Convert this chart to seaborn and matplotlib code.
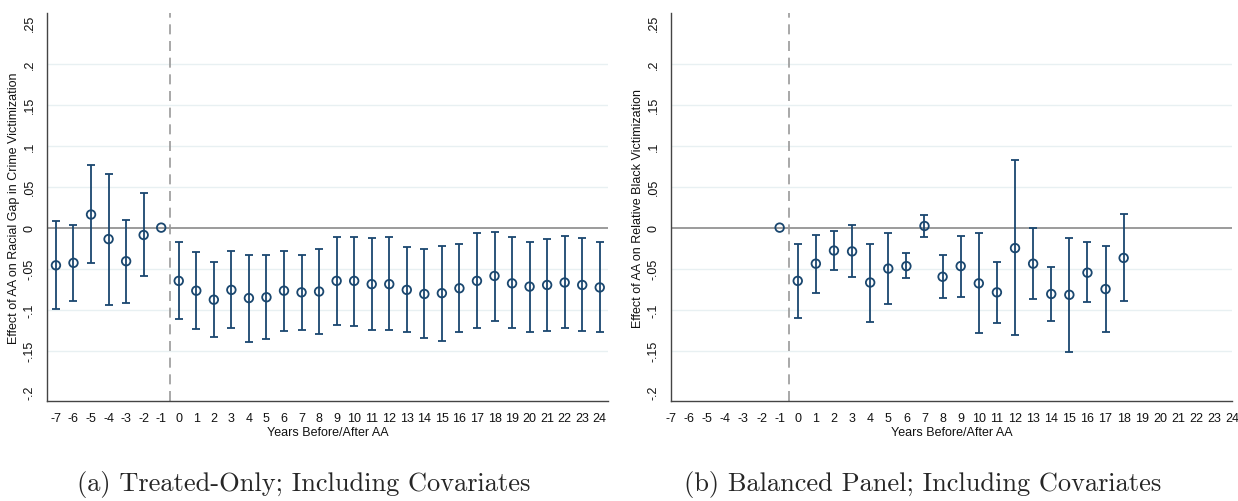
import numpy as np
import pandas as pd
import matplotlib
matplotlib.use("Agg")
import matplotlib.pyplot as plt
import seaborn as sns

# Event-study estimates: panel (a), treated-only sample with covariates
years_a = list(range(-7, 25))
est_a = [-0.046, -0.043, 0.016, -0.014, -0.041, -0.009, 0.0,
         -0.065, -0.077, -0.088, -0.076, -0.086, -0.085, -0.077, -0.079, -0.078,
         -0.065, -0.065, -0.069, -0.069, -0.076, -0.081, -0.080, -0.074, -0.065,
         -0.059, -0.068, -0.072, -0.070, -0.067, -0.070, -0.073]
lo_a = [-0.099, -0.089, -0.043, -0.094, -0.092, -0.059, np.nan,
        -0.111, -0.124, -0.133, -0.122, -0.140, -0.136, -0.126, -0.125, -0.130,
        -0.119, -0.120, -0.125, -0.125, -0.128, -0.135, -0.138, -0.127, -0.123,
        -0.114, -0.123, -0.127, -0.126, -0.123, -0.126, -0.128]
hi_a = [0.008, 0.003, 0.076, 0.066, 0.009, 0.042, np.nan,
        -0.018, -0.030, -0.042, -0.029, -0.033, -0.034, -0.029, -0.033, -0.026,
        -0.012, -0.011, -0.013, -0.012, -0.024, -0.026, -0.023, -0.020, -0.007,
        -0.005, -0.011, -0.018, -0.014, -0.010, -0.013, -0.018]

# Panel (b), balanced panel with covariates
years_b = list(range(-1, 19))
est_b = [0.0, -0.065, -0.044, -0.028, -0.029, -0.067, -0.050, -0.047, 0.002,
         -0.060, -0.047, -0.068, -0.079, -0.025, -0.044, -0.081, -0.082, -0.055,
         -0.075, -0.037]
lo_b = [np.nan, -0.110, -0.080, -0.052, -0.060, -0.115, -0.093, -0.062, -0.011,
        -0.086, -0.085, -0.129, -0.116, -0.131, -0.087, -0.114, -0.152, -0.091,
        -0.127, -0.090]
hi_b = [np.nan, -0.020, -0.009, -0.004, 0.003, -0.020, -0.007, -0.031, 0.015,
        -0.034, -0.010, -0.007, -0.042, 0.082, 0.000, -0.048, -0.013, -0.018,
        -0.022, 0.017]

y_ticks = [-0.2, -0.15, -0.1, -0.05, 0.0, 0.05, 0.1, 0.15, 0.2, 0.25]
y_tick_labels = ["-.2", "-.15", "-.1", "-.05", "0", ".05", ".1", ".15", ".2", ".25"]
x_ticks = list(range(-7, 25))

ylabels = ["Effect of AA on Racial Gap in Crime Victimization",
           "Effect of AA on Relative Black Victimization"]
xlabel = "Years Before/After AA"
captions = ["(a) Treated-Only; Including Covariates",
            "(b) Balanced Panel; Including Covariates"]

sns.set_theme(style="white")
plt.rcParams["font.family"] = ["Liberation Sans Narrow", "Liberation Sans", "DejaVu Sans"]

NAVY = "#1a476f"
GRID = "#e8f0f2"
ZERO = "#8a8a8a"
FS = 9

fig = plt.figure(figsize=(12.38, 5.02), dpi=100)
ax_a = fig.add_axes([47 / 1238, 1 - 402.3 / 502, 561 / 1238, 388.3 / 502])
ax_b = fig.add_axes([671 / 1238, 1 - 402.3 / 502, 561.3 / 1238, 388.3 / 502])

panels = [
    (ax_a, years_a, est_a, lo_a, hi_a, (-7.51, 24.47)),
    (ax_b, years_b, est_b, lo_b, hi_b, (-7.0, 24.0)),
]

for i, (ax, yrs, est, lo, hi, xlim) in enumerate(panels):
    df = pd.DataFrame({"year": yrs, "est": est, "lo": lo, "hi": hi})
    # light horizontal grid, zero line and treatment-onset marker
    for t in y_ticks:
        if t not in (0.0, 0.25, -0.2):
            ax.axhline(t, color=GRID, lw=1.0, zorder=0)
    ax.axhline(0, color=ZERO, lw=1.2, zorder=1)
    ax.axvline(-0.5, color="#999999", lw=1.2, ls=(0, (6, 4)), zorder=1)

    ci = df.dropna()
    ax.errorbar(ci["year"], (ci["lo"] + ci["hi"]) / 2,
                yerr=(ci["hi"] - ci["lo"]) / 2, fmt="none",
                ecolor=NAVY, elinewidth=1.3, capsize=3.2, capthick=1.3, zorder=2)
    sns.scatterplot(data=df, x="year", y="est", ax=ax, marker="o", s=38,
                    facecolors="none", edgecolor=NAVY, linewidth=1.3, zorder=3)

    ax.set_xlim(*xlim)
    ax.set_ylim(-0.212, 0.262)
    ax.set_xticks(x_ticks)
    ax.set_xticklabels([str(x) for x in x_ticks], fontsize=FS)
    ax.set_yticks(y_ticks)
    ax.set_yticklabels(y_tick_labels, fontsize=FS, rotation=90, va="center")
    ax.tick_params(axis="both", direction="out", length=5, width=0.9,
                   color="#333333", pad=3, labelcolor="#111111")
    ax.tick_params(axis="y", pad=3)
    for s in ("top", "right"):
        ax.spines[s].set_visible(False)
    for s in ("left", "bottom"):
        ax.spines[s].set_color("#444444")
        ax.spines[s].set_linewidth(1.0)
    ax.set_xlabel(xlabel, fontsize=FS, labelpad=1, color="#111111")
    ax.set_ylabel(ylabels[i], fontsize=FS, labelpad=3, color="#111111")

fig.text(304 / 1238, 1 - 485 / 502, captions[0], ha="center", va="center",
         fontsize=19, family="cmr10")
fig.text(923 / 1238, 1 - 485 / 502, captions[1], ha="center", va="center",
         fontsize=19, family="cmr10")

fig.savefig("out.png", dpi=100, facecolor="white")
